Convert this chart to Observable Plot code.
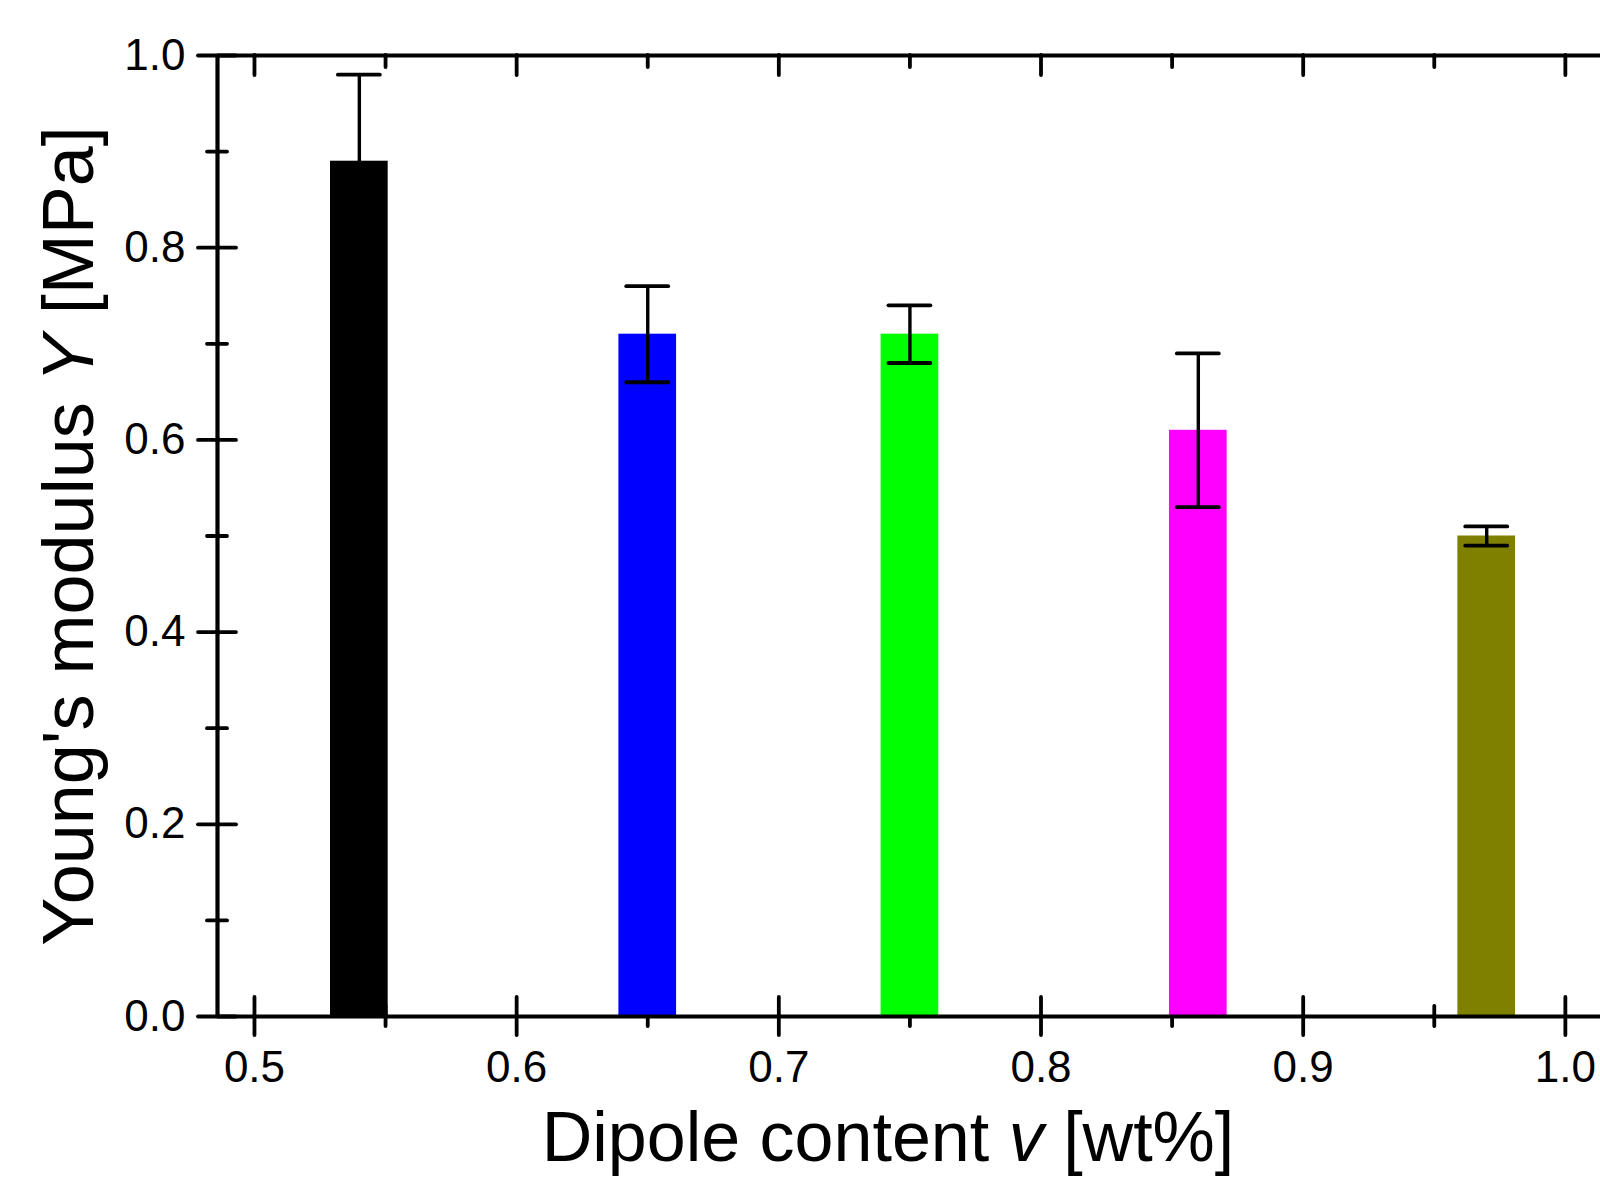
<!DOCTYPE html>
<html><head><meta charset="utf-8">
<script src="https://cdn.jsdelivr.net/npm/d3@7"></script>
<script src="https://cdn.jsdelivr.net/npm/@observablehq/plot@0.6"></script>
<style>html,body{margin:0;padding:0;background:#fff;} svg{display:block;}</style>
</head><body><div id="chart"></div>
<script>
// ---- data ----
const dipole = [0.54, 0.65, 0.75, 0.86, 0.97];
const modulus = [0.89, 0.71, 0.71, 0.61, 0.50];
const errors = [0.09, 0.05, 0.03, 0.08, 0.01];
const colors = ["#000000", "#0000ff", "#00ff00", "#ff00ff", "#808000"];
const xTicks = [0.5, 0.6, 0.7, 0.8, 0.9, 1.0];
const xMinorTicks = [0.55, 0.65, 0.75, 0.85, 0.95];
const yTicks = [0.0, 0.2, 0.4, 0.6, 0.8, 1.0];
const yMinorTicks = [0.1, 0.3, 0.5, 0.7, 0.9];
const xDomain = [0.4859, 1.0134];
const yDomain = [0, 1];
const xLabelParts = ["Dipole content ", "v", " [wt%]"];
const yLabelParts = ["Young's modulus ", "Y", " [MPa]"];

// ---- layout / style ----
const W = 1600, H = 1178;
const mL = 217, mR = 0, mT = 55, mB = 162;
const frameW = W - mL - mR, frameH = H - mT - mB;
const barHalf = 0.011, capHalf = 0.008;
const font = "'Liberation Sans', Arial, Helvetica, sans-serif";

const rows = dipole.map((x, i) => ({x, y: modulus[i], e: errors[i], c: colors[i]}));

const svg = Plot.plot({
  width: W, height: H,
  marginLeft: mL, marginRight: mR, marginTop: mT, marginBottom: mB,
  style: {fontFamily: font, background: "white", color: "black"},
  x: {domain: xDomain, axis: null},
  y: {domain: yDomain, axis: null},
  marks: [
    // bottom ticks (crossing)
    Plot.tickX(xTicks, {x: d => d, insetTop: frameH - 19, insetBottom: -19, stroke: "black", strokeWidth: 3.8, strokeLinecap: "round"}),
    Plot.tickX(xMinorTicks, {x: d => d, insetTop: frameH - 10, insetBottom: -10, stroke: "black", strokeWidth: 3.8, strokeLinecap: "round"}),
    // top ticks (inward)
    Plot.tickX(xTicks, {x: d => d, insetTop: 0, insetBottom: frameH - 20, stroke: "black", strokeWidth: 3.8, strokeLinecap: "round"}),
    Plot.tickX(xMinorTicks, {x: d => d, insetTop: 0, insetBottom: frameH - 12, stroke: "black", strokeWidth: 3.8, strokeLinecap: "round"}),
    // left ticks (crossing)
    Plot.tickY(yTicks, {y: d => d, insetLeft: -19, insetRight: frameW - 19, stroke: "black", strokeWidth: 3.8, strokeLinecap: "round"}),
    Plot.tickY(yMinorTicks, {y: d => d, insetLeft: -10, insetRight: frameW - 10, stroke: "black", strokeWidth: 3.8, strokeLinecap: "round"}),
    // bars
    Plot.rectY(rows, {x1: d => d.x - barHalf, x2: d => d.x + barHalf, y1: 0, y2: "y", fill: d => d.c}),
    // error bars
    Plot.ruleX(rows, {x: "x", y1: d => d.y - d.e, y2: d => d.y + d.e, stroke: "black", strokeWidth: 3.4}),
    Plot.ruleY(rows, {y: d => d.y + d.e, x1: d => d.x - capHalf, x2: d => d.x + capHalf, stroke: "black", strokeWidth: 3.8, strokeLinecap: "round"}),
    Plot.ruleY(rows, {y: d => d.y - d.e, x1: d => d.x - capHalf, x2: d => d.x + capHalf, stroke: "black", strokeWidth: 3.8, strokeLinecap: "round"}),
    // axis lines
    Plot.ruleY([yDomain[0], yDomain[1]], {y: d => d, stroke: "black", strokeWidth: 4.2}),
    Plot.ruleX([xDomain[0]], {x: d => d, stroke: "black", strokeWidth: 4.2}),
    // tick labels
    Plot.axisX({ticks: xTicks, tickSize: 0, tickPadding: 34, tickFormat: d3.format(".1f"), fontSize: 44, label: null, anchor: "bottom"}),
    Plot.axisY({ticks: yTicks, tickSize: 0, tickPadding: 32, tickFormat: d3.format(".1f"), fontSize: 44, label: null, anchor: "left"})
  ]
});

const s = d3.select(svg);
const xl = s.append("text")
  .attr("x", 888).attr("y", 1161)
  .attr("text-anchor", "middle")
  .attr("font-size", 70).attr("font-family", font).attr("fill", "black");
xl.append("tspan").text(xLabelParts[0]);
xl.append("tspan").attr("font-style", "italic").text(xLabelParts[1]);
xl.append("tspan").text(xLabelParts[2]);

const yl = s.append("text")
  .attr("transform", "translate(93,536) rotate(-90)")
  .attr("text-anchor", "middle")
  .attr("font-size", 72).attr("font-family", font).attr("fill", "black");
yl.append("tspan").text(yLabelParts[0]);
yl.append("tspan").attr("font-style", "italic").text(yLabelParts[1]);
yl.append("tspan").text(yLabelParts[2]);

document.getElementById("chart").appendChild(svg);
</script>
</body></html>
